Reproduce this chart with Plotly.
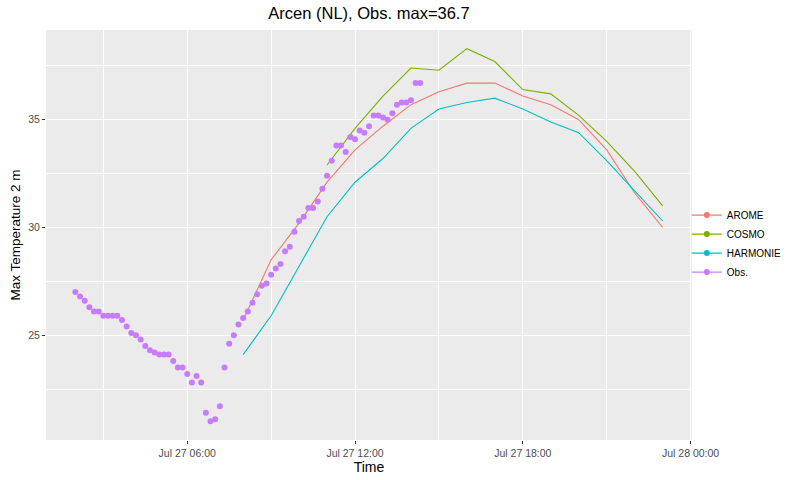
import pandas as pd
import plotly.graph_objects as go

# Observations: every 10 minutes, 02:00 -> 14:20
obs_start = "2018-07-27 02:00"
obs_values = [
    27.0, 26.8, 26.6, 26.3, 26.1, 26.1, 25.9, 25.9, 25.9, 25.9,
    25.7, 25.4, 25.1, 25.0, 24.8, 24.5, 24.3, 24.2, 24.1, 24.1,
    24.1, 23.8, 23.5, 23.5, 23.2, 22.8, 23.1, 22.8, 21.4, 21.0,
    21.1, 21.7, 23.5, 24.6, 25.0, 25.5, 25.8, 26.1, 26.5, 26.9,
    27.3, 27.4, 27.8, 28.1, 28.3, 28.9, 29.1, 29.8, 30.3, 30.5,
    30.9, 30.9, 31.2, 31.8, 32.4, 33.1, 33.8, 33.8, 33.5, 34.2,
    34.1, 34.5, 34.4, 34.7, 35.2, 35.2, 35.1, 35.0, 35.3, 35.7,
    35.8, 35.8, 35.9, 36.7, 36.7,
]

# Model forecasts, hourly
arome_hours = [8, 9, 10, 11, 12, 13, 14, 15, 16, 17, 18, 19, 20, 21, 22, 23]
arome_values = [25.7, 28.5, 30.2, 32.1, 33.6, 34.7, 35.7, 36.3, 36.7, 36.7,
                36.1, 35.7, 35.0, 33.6, 31.6, 30.0]

harmonie_hours = [8, 9, 10, 11, 12, 13, 14, 15, 16, 17, 18, 19, 20, 21, 22, 23]
harmonie_values = [24.1, 25.9, 28.2, 30.5, 32.1, 33.2, 34.6, 35.5, 35.8, 36.0,
                   35.5, 34.9, 34.4, 33.1, 31.7, 30.3]

cosmo_hours = [11, 12, 13, 14, 15, 16, 17, 18, 19, 20, 21, 22, 23]
cosmo_values = [32.9, 34.6, 36.1, 37.4, 37.3, 38.3, 37.7, 36.4, 36.2, 35.2,
                34.0, 32.6, 31.0]

DAY = pd.Timestamp("2018-07-27")

COLORS = {
    "AROME": "#F8766D",
    "COSMO": "#7CAE00",
    "HARMONIE": "#00BFC4",
    "Obs.": "#C77CFF",
}


def hours_to_time(hours):
    return [DAY + pd.Timedelta(hours=h) for h in hours]


obs_time = pd.date_range(obs_start, periods=len(obs_values), freq="10min")

fig = go.Figure()

models = [
    ("AROME", arome_hours, arome_values),
    ("COSMO", cosmo_hours, cosmo_values),
    ("HARMONIE", harmonie_hours, harmonie_values),
]
for name, hrs, vals in models:
    fig.add_trace(go.Scatter(
        x=hours_to_time(hrs), y=vals,
        mode="lines", name=name, showlegend=False,
        line=dict(color=COLORS[name], width=1.1),
    ))

fig.add_trace(go.Scatter(
    x=obs_time, y=obs_values,
    mode="markers", name="Obs.", showlegend=False,
    marker=dict(color=COLORS["Obs."], size=6),
))

# legend keys (ggplot style: line + point)
for name in ["AROME", "COSMO", "HARMONIE", "Obs."]:
    fig.add_trace(go.Scatter(
        x=[None], y=[None], mode="lines+markers", name=name,
        line=dict(color=COLORS[name], width=1.1),
        marker=dict(color=COLORS[name], size=6),
    ))

axis_common = dict(
    showgrid=True, gridcolor="white", gridwidth=1.1,
    zeroline=False, showline=False, automargin=False,
    ticks="outside", ticklen=3, tickcolor="#333333", tickwidth=1,
    tickfont=dict(family="Liberation Sans", size=10.5, color="#4D4D4D"),
)

fig.update_layout(
    width=800, height=480,
    margin=dict(l=46, r=108, t=30, b=40, autoexpand=False),
    paper_bgcolor="white",
    plot_bgcolor="#EBEBEB",
    font=dict(family="Liberation Sans", color="black"),
    title=dict(
        text="Arcen (NL), Obs. max=36.7",
        x=(46 + 692) / 2 / 800, xanchor="center",
        y=1 - 13 / 480, yanchor="middle",
        font=dict(size=16.5, color="black"),
    ),
    xaxis=dict(
        axis_common,
        range=["2018-07-27 00:57", "2018-07-28 00:03"],
        tick0="2018-07-27 00:00", dtick=6 * 3600 * 1000,
        tickformat="%b %d %H:%M",
        minor=dict(dtick=3 * 3600 * 1000, showgrid=True,
                   gridcolor="white", gridwidth=0.6, ticks=""),
        title=dict(text="Time", font=dict(size=14), standoff=4),
    ),
    yaxis=dict(
        axis_common,
        range=[20.135, 39.165],
        tick0=0, dtick=5,
        minor=dict(dtick=2.5, showgrid=True,
                   gridcolor="white", gridwidth=0.6, ticks=""),
        title=dict(text="Max Temperature 2 m", font=dict(size=13.5), standoff=4),
    ),
    legend=dict(
        x=0.992, xanchor="left", y=0.479, yanchor="middle",
        font=dict(size=10, color="black"),
        bgcolor="rgba(0,0,0,0)", itemwidth=30,
        tracegroupgap=0,
    ),
)

# no page margin around the 800x480 figure
fig.write_html(
    "out.html",
    config={"displayModeBar": False},
    post_script="document.body.style.margin = '0px';",
)
